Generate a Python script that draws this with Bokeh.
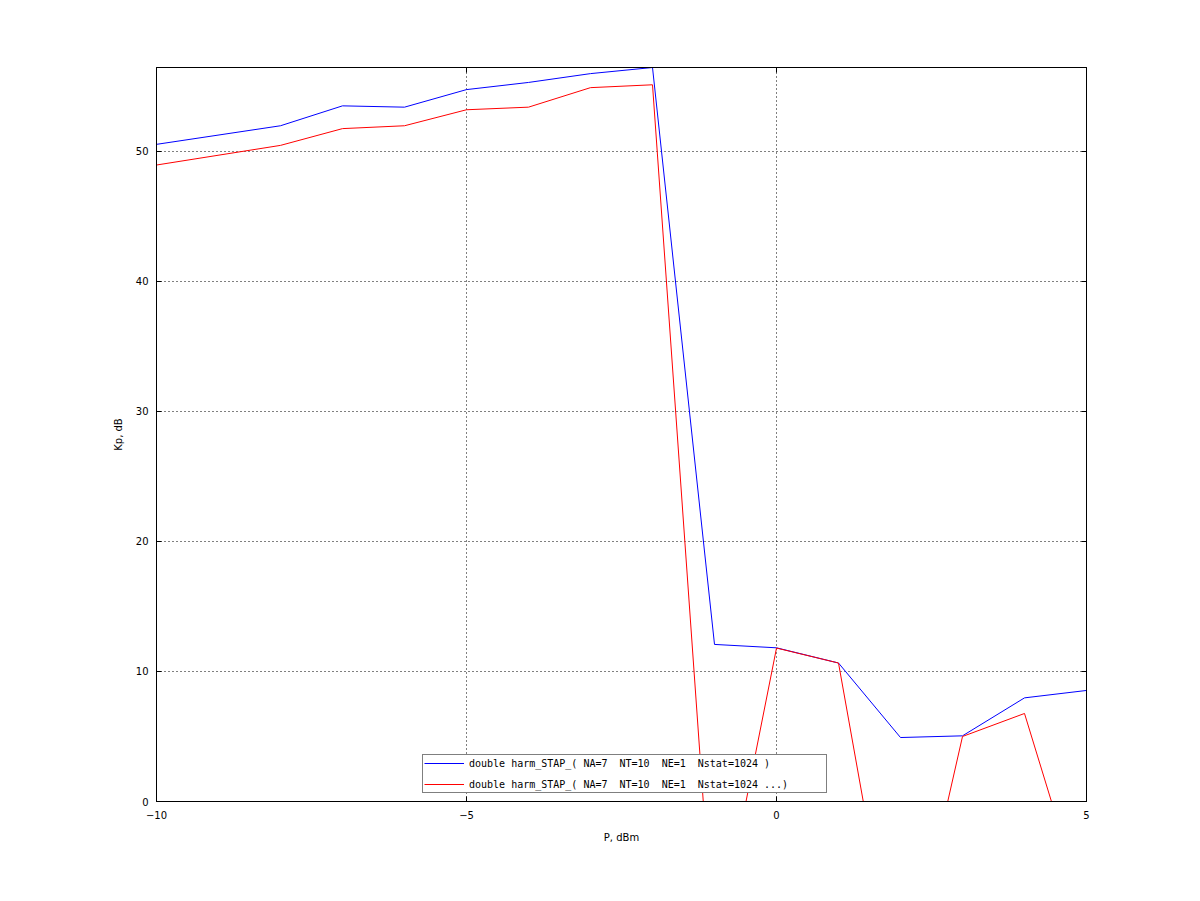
from bokeh.plotting import figure
from bokeh.models import Range1d, LinearAxis, Legend, LegendItem, FixedTicker
from bokeh.embed import file_html
from bokeh.resources import INLINE

# ---- data ----
p_dbm = [-10, -8, -7, -6, -5, -4, -3, -2, -1, 0, 1, 2, 3, 4, 5]
kp_blue = [50.54, 51.97, 53.5, 53.4, 54.75, 55.3, 55.98, 56.45, 12.08, 11.82, 10.65, 4.92, 5.05, 7.97, 8.54]
kp_red = [48.95, 50.46, 51.75, 51.97, 53.2, 53.4, 54.9, 55.12, -12.2, 11.8, 10.65, -16.0, 5.0, 6.77, -8.8]
label_blue = "double harm_STAP_(\u00a0NA=7\u00a0\u00a0NT=10\u00a0\u00a0NE=1\u00a0\u00a0Nstat=1024\u00a0)"
label_red = "double harm_STAP_(\u00a0NA=7\u00a0\u00a0NT=10\u00a0\u00a0NE=1\u00a0\u00a0Nstat=1024\u00a0...)"
x_ticks = [-10, -5, 0, 5]
y_ticks = [0, 10, 20, 30, 40, 50]

FONT = "DejaVu Sans"
FS = "10px"

p = figure(width=1192, height=893, output_backend="svg", toolbar_location=None,
           x_range=Range1d(-10, 5), y_range=Range1d(0, 56.45),
           min_border_left=156, min_border_right=106, min_border_top=67, min_border_bottom=92)
p.background_fill_color = "white"
p.border_fill_color = "white"
p.outline_line_color = "black"
p.outline_line_width = 1

r1 = p.line(p_dbm, kp_blue, line_color="#0000ff", line_width=1)
r2 = p.line(p_dbm, kp_red, line_color="#ff0000", line_width=1)

for ax in (p.xaxis[0], p.yaxis[0]):
    ax.major_tick_in = 5
    ax.major_tick_out = 0
    ax.minor_tick_in = 0
    ax.minor_tick_out = 0
    ax.axis_line_color = "black"
    ax.major_tick_line_color = "black"
    ax.major_label_text_font = FONT
    ax.major_label_text_font_size = FS
    ax.major_label_text_color = "black"
    ax.axis_label_text_font = FONT
    ax.axis_label_text_font_size = FS
    ax.axis_label_text_font_style = "normal"
    ax.axis_label_text_color = "black"

p.xaxis[0].ticker = FixedTicker(ticks=x_ticks)
p.yaxis[0].ticker = FixedTicker(ticks=y_ticks)
p.xaxis[0].axis_label = "P, dBm"
p.yaxis[0].axis_label = "Kp, dB"
p.xaxis[0].major_label_standoff = 9
p.yaxis[0].major_label_standoff = 8
p.xaxis[0].axis_label_standoff = 10
p.yaxis[0].axis_label_standoff = 9

# mirror ticks on top and right
top = LinearAxis(ticker=FixedTicker(ticks=x_ticks))
right = LinearAxis(ticker=FixedTicker(ticks=y_ticks))
for ax in (top, right):
    ax.major_tick_in = 5
    ax.major_tick_out = 0
    ax.minor_tick_in = 0
    ax.minor_tick_out = 0
    ax.major_label_text_color = None
    ax.major_label_text_font_size = "1px"
    ax.axis_line_color = "black"
    ax.major_tick_line_color = "black"
p.add_layout(top, "above")
p.add_layout(right, "right")

for g in (p.xgrid[0], p.ygrid[0]):
    g.grid_line_color = "black"
    g.grid_line_dash = "1 3"
    g.grid_line_width = 1
p.xgrid[0].ticker = FixedTicker(ticks=x_ticks)
p.ygrid[0].ticker = FixedTicker(ticks=y_ticks)

legend = Legend(items=[LegendItem(label=label_blue, renderers=[r1]),
                       LegendItem(label=label_red, renderers=[r2])],
                location=(266, 8))
legend.label_text_font = "DejaVu Sans Mono"
legend.label_text_font_size = FS
legend.label_text_color = "black"
legend.border_line_color = "black"
legend.border_line_width = 1
legend.background_fill_color = "white"
legend.background_fill_alpha = 1
legend.glyph_width = 40
legend.glyph_height = 14
legend.label_height = 14
legend.label_width = 356
legend.label_standoff = 5
legend.spacing = 7
legend.padding = 1
legend.margin = 0
p.add_layout(legend, "center")

open("out.html", "w").write(file_html(p, INLINE))
